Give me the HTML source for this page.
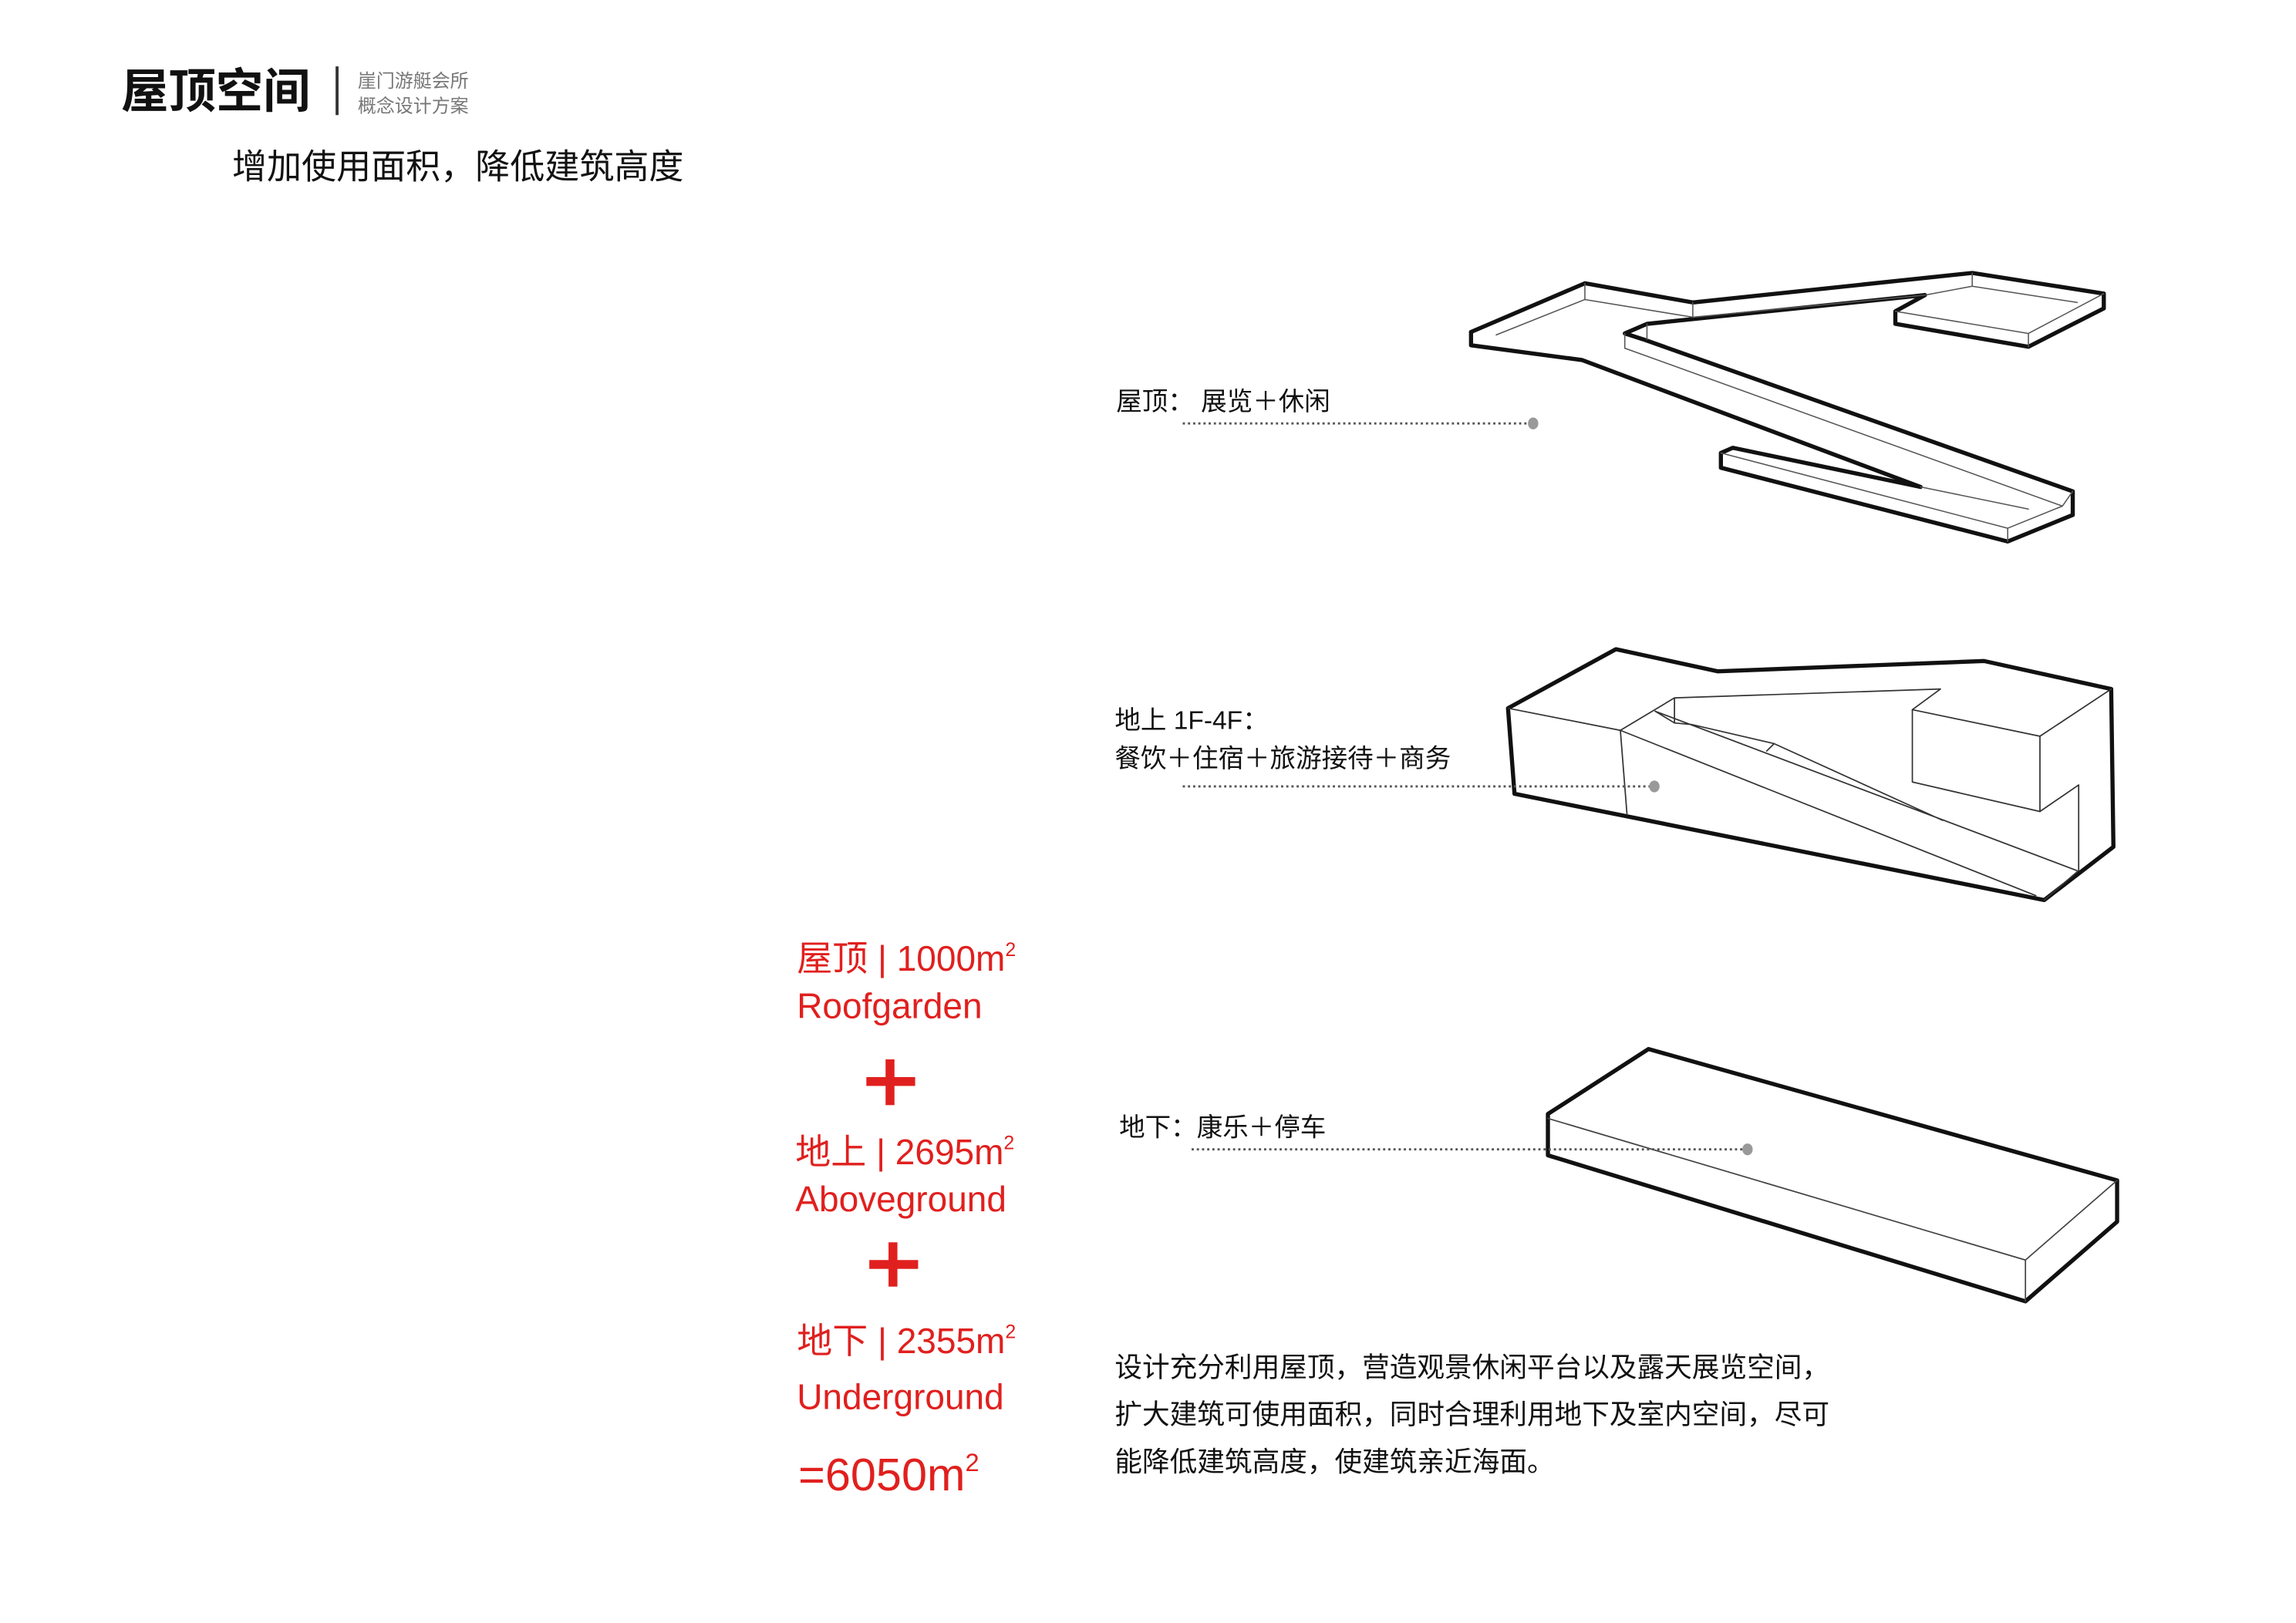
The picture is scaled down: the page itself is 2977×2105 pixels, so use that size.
<!DOCTYPE html>
<html><head><meta charset="utf-8"><style>
html,body{margin:0;padding:0;background:#fff;}
svg{display:block;}
text{font-family:"Liberation Sans","Noto Sans CJK SC",sans-serif;}
</style></head><body>
<svg width="2977" height="2105" viewBox="0 0 1553 1100" preserveAspectRatio="none" xmlns="http://www.w3.org/2000/svg">
<rect width="1553" height="1100" fill="#fff"/>
<!-- header -->
<text x="82" y="73" font-size="32" font-weight="bold" fill="#111">屋顶空间</text>
<line x1="228" y1="45" x2="228" y2="78" stroke="#333" stroke-width="2"/>
<text x="242" y="59" font-size="12.5" fill="#777">崖门游艇会所</text>
<text x="242" y="76" font-size="12.5" fill="#777">概念设计方案</text>
<text x="157" y="121" font-size="23.5" fill="#111">增加使用面积，降低建筑高度</text>

<g fill="none" stroke="#111" stroke-linejoin="round" stroke-linecap="round">
<!-- roof -->
<g stroke-width="2.8">
<path d="M995,225 L1072,192 L1145,205 L1334,185 L1423,199 L1423,209 L1372,235 L1282,219.5 L1282,211 L1302,200"/>
<path d="M1302,200 L1114,219.5 L1099,226 L1111.5,230 L1402,333 L1402,349 L1358,367 L1164,317 L1164,307 L1172,303.5 L1299,330"/>
<path d="M995,225 L995,234 L1070,244 L1299,330"/>
</g>
<g stroke-width="0.8" stroke="#555">
<path d="M1012,227 L1072,203 L1145,215 L1302,200 L1334,194 L1405,205"/>
<path d="M1334,185 L1334,194 M1072,192 L1072,203 M1145,205 L1145,215 M1099,226 L1099,236 L1395,343 L1358,358 L1358,367 M1395,343 L1402,333 M1114,219.5 L1114,230"/>
<path d="M1282,211 L1372,226 L1372,235 M1372,226 L1423,199"/>
<path d="M1164,307 L1358,358 M1299,330 L1372,345"/>
</g>
<!-- middle block -->
<g stroke-width="2.8">
<path d="M1020,480 L1093,440 L1162,455 L1342,448 L1428,467 L1429.5,574 L1382.7,610 L1024.4,538 Z"/>
</g>
<g stroke-width="0.9" stroke="#333">
<path d="M1020,480 L1096,495 L1100.5,552"/>
<path d="M1096,495 L1132.6,473 L1132.6,490 M1132.6,473 L1312.5,467 L1293.5,481 L1293.5,530 L1379.8,550 L1406,532 L1406,590 L1382.7,610"/>
<path d="M1293.5,481 L1379.8,499 L1379.8,550 M1379.8,499 L1428,467"/>
<path d="M1096,495 L1377,607 M1119.5,482 L1404.7,590 M1119.5,482 L1132.6,490 L1144,491 L1200,504 L1314,556 M1195,509 L1200,504"/>
</g>
<!-- bottom slab -->
<path stroke-width="2.8" d="M1047,755 L1115,711 L1432,800 L1432,828 L1370,882 L1047,783 Z"/>
<path stroke-width="0.9" stroke="#444" d="M1047,758 L1370,854 L1432,800 M1370,854 L1370,882"/>
</g>

<!-- leaders -->
<g stroke="#555" stroke-width="1.5" stroke-dasharray="1.5 2" fill="none">
<line x1="800" y1="287" x2="1035" y2="287"/>
<line x1="800" y1="533" x2="1116" y2="533"/>
<line x1="806" y1="779" x2="1179" y2="779"/>
</g>
<g fill="#999">
<ellipse cx="1037" cy="287" rx="3.5" ry="4"/>
<ellipse cx="1119" cy="533" rx="3.5" ry="4"/>
<ellipse cx="1182" cy="779" rx="3.5" ry="4"/>
</g>

<!-- labels -->
<g font-size="17.5" fill="#111">
<text x="755" y="278">屋顶：  展览＋休闲</text>
<text x="754" y="494">地上 1F-4F：</text>
<text x="754" y="520">餐饮＋住宿＋旅游接待＋商务</text>
<text x="757" y="770">地下：康乐＋停车</text>
</g>
<g font-size="18.6" fill="#111">
<text x="754" y="933">设计充分利用屋顶，营造观景休闲平台以及露天展览空间，</text>
<text x="754" y="965">扩大建筑可使用面积，同时合理利用地下及室内空间，尽可</text>
<text x="754" y="997">能降低建筑高度，使建筑亲近海面。</text>
</g>

<!-- red stats -->
<g fill="#e0201e" font-size="24">
<text x="539" y="658">屋顶 | 1000m<tspan font-size="13" dy="-10">2</tspan></text>
<text x="539" y="690">Roofgarden</text>
<text x="538" y="789">地上 | 2695m<tspan font-size="13" dy="-10">2</tspan></text>
<text x="538" y="821">Aboveground</text>
<text x="539" y="917">地下 | 2355m<tspan font-size="13" dy="-10">2</tspan></text>
<text x="539" y="955">Underground</text>
<text x="540" y="1010" font-size="31">=6050m<tspan font-size="17" dy="-13">2</tspan></text>
<rect x="586" y="730" width="33" height="6"/>
<rect x="599" y="718" width="6" height="31"/>
<rect x="588" y="854" width="33" height="6"/>
<rect x="601" y="842" width="6" height="30"/>
</g>
</svg>
</body></html>
